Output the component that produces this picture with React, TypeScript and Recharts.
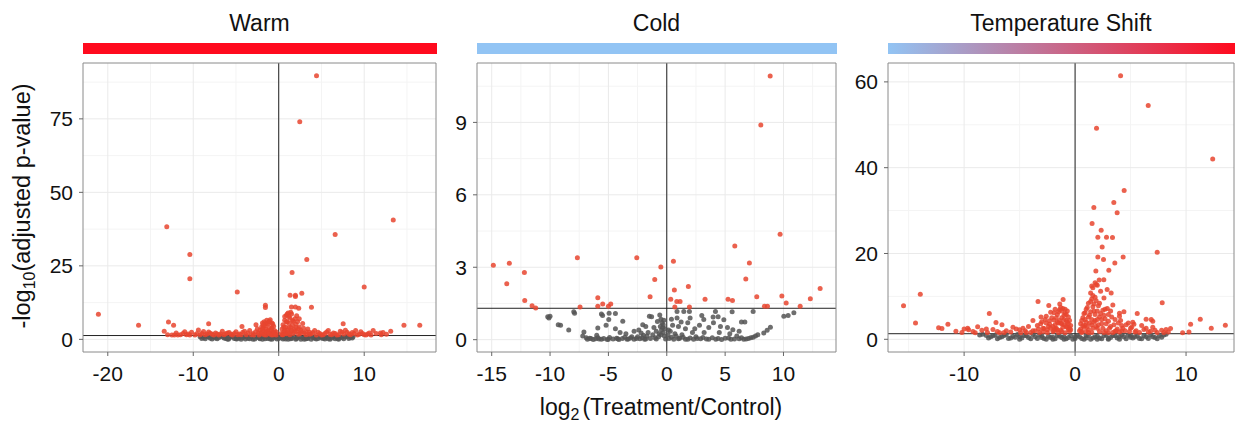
import { ScatterChart, Scatter, XAxis, YAxis, CartesianGrid, ReferenceLine } from 'recharts'

type Pt = [number, number]

// Warm panel
const warmUp: Pt[] = [
  [4.42, 89.7], [2.46, 74.0], [13.4, 40.6], [-13.1, 38.3], [6.6, 35.7], [-10.4, 28.9], [3.28, 27.2],
  [-10.4, 20.6], [1.56, 22.7], [-4.85, 16.1], [2.7, 15.7], [10.0, 17.8], [1.33, 15.0], [1.95, 15.0],
  [1.95, 14.6], [3.83, 10.9], [-1.56, 11.6], [-1.56, 10.8], [1.49, 11.0], [1.95, 11.0], [2.34, 10.6],
  [-21.1, 8.5], [-16.4, 4.8], [-12.9, 5.9], [-13.4, 2.8], [-12.3, 4.8], [-8.2, 5.3], [7.54, 5.3],
  [14.65, 4.8], [16.5, 4.8], [13.1, 2.8], [11.05, 3.0], [12.2, 2.3], [11.9, 2.2], [-4.3, 4.4], [-2.66, 5.0],
  [-2.4, 2.2], [-2.2, 3.1], [-2.0, 4.2], [-1.9, 5.6], [-1.8, 2.8], [-1.7, 6.0], [-1.6, 4.6], [-1.5, 3.5],
  [-1.4, 6.5], [-1.3, 5.2], [-1.2, 2.6], [-1.1, 4.0], [-1.0, 6.7], [-0.9, 3.3], [-0.8, 5.6], [-0.7, 2.4],
  [-0.6, 4.5], [-0.5, 3.0], [-0.4, 1.9], [-0.3, 2.5], [-2.1, 1.8], [-1.6, 2.0], [-1.0, 1.7], [-0.6, 1.6],
  [-1.3, 3.0], [-0.9, 2.1], [-1.8, 4.0], [-1.2, 5.8], [-0.8, 3.9], [-1.5, 1.5],
  [0.3, 2.0], [0.4, 3.5], [0.5, 5.0], [0.6, 2.6], [0.7, 6.5], [0.8, 4.2], [0.9, 8.2], [1.0, 3.1],
  [1.1, 9.0], [1.2, 5.5], [1.3, 7.3], [1.4, 2.4], [1.5, 8.6], [1.6, 4.8], [1.7, 6.2], [1.8, 3.4],
  [1.9, 7.0], [2.0, 5.1], [2.1, 2.8], [2.2, 6.0], [2.4, 4.2], [2.6, 3.0], [2.8, 5.4], [3.0, 2.2],
  [0.5, 1.6], [0.9, 1.9], [1.3, 1.6], [1.7, 2.0], [2.3, 1.7], [1.0, 6.0], [1.4, 4.0], [0.7, 3.0],
  [2.5, 2.0], [3.4, 3.5], [3.6, 2.4],
  [-12.5, 1.5], [-12.0, 2.2], [-11.5, 1.6], [-11.0, 2.6], [-10.6, 1.8], [-10.2, 2.4], [-9.8, 1.5],
  [-9.4, 3.2], [-9.0, 2.0], [-8.6, 1.6], [-8.2, 2.5], [-7.8, 1.7], [-7.4, 2.2], [-7.0, 1.5], [-6.6, 2.8],
  [-6.2, 1.9], [-5.8, 2.3], [-5.4, 1.5], [-5.0, 2.6], [-4.6, 1.8], [-4.2, 2.4], [-3.8, 1.6], [-3.4, 3.0],
  [-3.0, 2.0], [-2.7, 2.6], [-2.9, 1.5], [-3.6, 2.2], [-4.8, 1.6], [-6.8, 1.8], [-8.8, 2.7], [-10.8, 1.6],
  [-11.8, 1.5], [3.2, 1.6], [3.6, 1.7], [4.0, 2.3], [4.4, 1.5], [4.8, 2.0], [5.2, 1.6], [5.6, 2.5],
  [6.0, 1.7], [6.4, 2.2], [6.8, 1.5], [7.2, 2.8], [7.6, 1.8], [8.0, 2.4], [8.4, 1.6], [8.8, 2.0],
  [9.2, 1.5], [9.6, 2.6], [10.0, 1.6], [10.4, 1.8], [10.8, 1.5], [11.4, 2.0], [12.0, 1.6], [12.6, 1.7],
  [5.8, 3.0], [7.8, 3.1], [4.2, 3.0], [9.0, 3.0],
  [-13.0, 1.6], [-12.2, 1.5], [-11.2, 2.0], [-10.4, 1.5], [-9.6, 1.9], [-9.2, 1.6], [-8.4, 1.8], [-8.0, 2.1],
  [-7.6, 1.5], [-7.2, 1.8], [-6.4, 1.6], [-6.0, 2.2], [-5.6, 1.7], [-5.2, 2.0], [-4.4, 1.6], [-4.0, 2.8],
  [-3.2, 1.6], [-2.5, 3.6], [-2.3, 1.5], [-2.0, 2.4], [-1.9, 3.5], [-1.7, 1.6], [-1.4, 2.6], [-1.1, 2.0],
  [-0.8, 1.5], [-0.5, 2.2], [-0.3, 1.5], [-1.5, 5.4], [-1.8, 5.0], [-0.7, 5.2], [-1.1, 6.2], [0.4, 1.6],
  [0.6, 4.2], [0.8, 2.0], [1.1, 2.4], [1.2, 4.0], [1.5, 3.0], [1.6, 6.4], [1.9, 2.6], [2.0, 4.0],
  [2.3, 3.6], [2.7, 2.4], [2.9, 3.8], [3.2, 2.6], [3.8, 1.9], [4.6, 2.4], [5.0, 1.5], [5.4, 2.0],
  [6.2, 1.6], [6.6, 2.0], [7.0, 1.6], [7.4, 2.4], [8.2, 1.8], [8.6, 2.3], [9.4, 1.7], [9.8, 2.0],
  [10.2, 1.5], [10.6, 2.2], [1.2, 7.8], [0.9, 6.0], [1.4, 9.2], [1.0, 8.6], [0.7, 7.8], [2.1, 8.0], [2.4, 7.0],
]
const warmNs: Pt[] = [
  [-9.2, 0.9], [-8.8, 0.6], [-8.4, 1.0], [-8.0, 0.4], [-7.6, 0.8], [-7.2, 0.2], [-6.8, 1.1], [-6.4, 0.5],
  [-6.0, 0.1], [-5.6, 0.9], [-5.2, 0.3], [-4.8, 0.7], [-4.4, 0.0], [-4.0, 1.0], [-3.6, 0.4], [-3.2, 0.8],
  [-2.8, 0.1], [-2.4, 0.6], [-2.0, 1.1], [-1.6, 0.2], [-1.2, 0.7], [-0.8, 0.0], [-0.4, 0.9], [0.0, 0.3],
  [0.4, 0.8], [0.8, 0.1], [1.2, 1.0], [1.6, 0.4], [2.0, 0.0], [2.4, 0.9], [2.8, 0.5], [3.2, 0.2],
  [3.6, 1.1], [4.0, 0.6], [4.4, 0.1], [4.8, 0.9], [5.2, 0.3], [5.6, 0.7], [6.0, 0.0], [6.4, 1.0],
  [6.8, 0.5], [7.2, 0.8], [7.6, 0.2], [8.0, 1.0], [8.4, 0.6], [8.7, 0.9], [-6.2, 0.3], [-5.0, 0.2],
  [-3.0, 0.0], [-2.2, 0.2], [-1.0, 0.4], [-0.2, 0.1], [0.6, 0.5], [1.4, 0.2], [2.2, 0.6], [3.0, 0.0],
  [4.2, 0.4], [5.4, 0.1], [6.6, 0.2], [-7.0, 0.6], [-4.6, 0.5], [-1.8, 0.9], [1.0, 0.7], [3.4, 0.8],
  [5.0, 0.5], [7.0, 0.3],
  [-9.0, 0.3], [-8.6, 0.2], [-8.2, 0.8], [-7.8, 0.1], [-7.4, 0.5], [-6.6, 0.9], [-6.2, 0.7], [-5.8, 0.4],
  [-5.4, 1.0], [-4.9, 0.1], [-4.2, 0.6], [-3.8, 0.9], [-3.4, 0.2], [-2.6, 0.9], [-2.2, 0.5], [-1.9, 0.0],
  [-1.4, 1.0], [-1.0, 0.1], [-0.6, 0.5], [-0.3, 1.1], [0.2, 0.6], [0.5, 0.1], [0.9, 0.9], [1.3, 0.5],
  [1.8, 1.0], [2.1, 0.3], [2.6, 0.0], [3.0, 0.7], [3.4, 0.3], [3.8, 0.0], [4.2, 0.9], [4.6, 0.3],
  [5.0, 1.0], [5.4, 0.6], [5.8, 0.2], [6.2, 0.5], [6.6, 0.9], [7.0, 0.0], [7.4, 0.6], [7.8, 0.9],
  [8.2, 0.3], [8.6, 0.5], [-5.9, 0.0], [-3.9, 0.1], [-1.3, 0.3], [1.1, 0.0], [3.3, 0.5], [5.9, 0.8],
]

// Cold panel
const coldUp: Pt[] = [
  [8.86, 10.92], [8.06, 8.89], [9.71, 4.37], [5.83, 3.88], [-14.86, 3.08], [-13.49, 3.17], [-7.66, 3.39],
  [-2.57, 3.39], [0.57, 3.25], [-0.51, 3.01], [7.08, 3.18], [-12.2, 2.78], [-13.71, 2.32], [-1.03, 2.49],
  [6.77, 2.51], [13.14, 2.12], [0.65, 2.06], [1.85, 2.2], [-12.17, 1.62], [-5.91, 1.74], [-1.43, 1.78],
  [3.28, 1.68], [5.25, 1.68], [5.63, 1.62], [7.71, 1.78], [9.86, 1.81], [12.3, 1.7], [10.23, 1.52],
  [0.34, 1.68], [0.86, 1.58], [1.14, 1.58], [-11.54, 1.41], [-11.23, 1.31], [-7.43, 1.35], [-5.91, 1.39],
  [-5.49, 1.48], [-5.0, 1.39], [-4.8, 1.48], [0.69, 1.35], [1.94, 1.35], [8.37, 1.39], [8.63, 1.39],
  [11.43, 1.39],
]
const coldNs: Pt[] = [
  [-10.2, 0.95], [-10.0, 0.97], [-10.1, 0.9], [-9.3, 0.62], [-9.1, 0.6], [-8.4, 0.4], [-7.97, 1.16],
  [-7.9, 1.1], [-7.1, 0.32], [-7.2, 0.15], [-6.9, 0.08], [-5.6, 1.06], [-5.5, 1.0], [-4.94, 1.1],
  [-4.4, 1.08], [-5.2, 0.6], [-4.97, 0.84], [-3.77, 0.76], [-5.91, 0.48], [-2.06, 0.62], [-1.49, 0.97],
  [-1.3, 0.95], [-0.6, 1.02], [-0.5, 0.85], [-0.4, 0.7], [-0.55, 0.55], [-0.45, 0.4], [-0.3, 0.3],
  [-0.65, 0.25], [-0.2, 0.15], [-1.1, 0.5], [-2.8, 0.35], [-3.5, 0.25], [-4.4, 0.45], [-6.0, 0.18],
  [-6.5, 0.05], [-5.8, 0.03], [-5.0, 0.02], [-4.2, 0.04], [-3.4, 0.02], [-2.6, 0.05], [-1.8, 0.03],
  [-1.0, 0.08], [-0.1, 0.03], [0.2, 0.05], [0.88, 1.17], [1.46, 1.17], [1.94, 1.17], [0.88, 0.9],
  [1.23, 0.73], [0.5, 0.6], [0.3, 0.35], [0.7, 0.25], [1.6, 0.45], [2.2, 0.3], [2.8, 0.6], [3.17, 0.84],
  [4.17, 1.17], [3.97, 0.94], [4.89, 0.83], [5.6, 1.16], [5.66, 0.41], [6.4, 0.73], [6.69, 0.73],
  [7.4, 1.17], [8.31, 0.28], [8.88, 0.51], [8.6, 0.39], [10.03, 0.97], [10.4, 1.0], [10.89, 1.12],
  [1.0, 0.04], [1.8, 0.02], [2.6, 0.05], [3.4, 0.03], [4.2, 0.02], [5.0, 0.06], [5.8, 0.03], [6.6, 0.02],
  [7.2, 0.08], [7.6, 0.15], [4.5, 0.3], [3.6, 0.5], [5.2, 0.5], [2.0, 0.9], [4.0, 0.7], [-3.0, 0.12],
  [-2.0, 0.18], [6.0, 0.15], [-1.6, 0.3], [1.3, 0.2],
  [-6.8, 0.02], [-6.6, 0.06], [-6.3, 0.01], [-6.1, 0.04], [-5.9, 0.08], [-5.6, 0.02], [-5.4, 0.05],
  [-5.1, 0.01], [-4.9, 0.09], [-4.6, 0.03], [-4.3, 0.06], [-4.1, 0.01], [-3.8, 0.05], [-3.6, 0.1],
  [-3.3, 0.03], [-3.1, 0.07], [-2.8, 0.02], [-2.5, 0.12], [-2.3, 0.04], [-2.1, 0.08], [-1.9, 0.02],
  [-1.7, 0.15], [-1.4, 0.05], [-1.2, 0.2], [-0.9, 0.03], [-0.7, 0.12], [-0.35, 0.5], [-0.25, 0.8],
  [-0.3, 0.62], [-0.15, 0.45], [-0.5, 0.2], [0.1, 0.2], [0.15, 0.4], [0.4, 0.1], [0.6, 0.02], [0.8, 0.15],
  [1.1, 0.06], [1.4, 0.1], [1.6, 0.02], [2.0, 0.07], [2.3, 0.02], [2.5, 0.12], [2.9, 0.04], [3.1, 0.09],
  [3.6, 0.02], [3.9, 0.08], [4.4, 0.05], [4.7, 0.01], [5.3, 0.07], [5.5, 0.02], [6.2, 0.04], [6.4, 0.08],
  [6.8, 0.03], [7.0, 0.05], [7.4, 0.1], [7.8, 0.2], [-2.4, 0.4], [-1.8, 0.55], [-0.8, 0.75], [0.4, 0.85],
  [1.0, 0.55], [2.4, 0.45], [3.2, 0.3], [4.6, 0.55], [5.4, 0.25], [-4.0, 0.3], [-2.2, 0.28], [-0.9, 0.35],
  [1.8, 0.7], [3.0, 1.0], [4.4, 0.95], [6.2, 0.35],
]

// Temperature shift panel
const shiftUp: Pt[] = [
  [4.1, 61.4], [6.59, 54.5], [1.93, 49.2], [12.4, 42.0], [4.42, 34.7], [3.49, 31.9], [1.69, 30.7],
  [3.79, 29.5], [1.53, 27.0], [2.35, 25.4], [2.05, 23.8], [2.83, 23.8], [3.37, 23.7], [2.44, 21.5],
  [7.4, 20.3], [2.05, 19.2], [4.33, 19.2], [2.56, 18.6], [3.58, 17.8], [1.87, 15.9], [3.04, 16.1],
  [2.17, 13.8], [2.59, 13.9], [1.5, 12.4], [1.9, 12.8], [2.89, 11.6], [3.25, 10.8], [7.85, 8.5],
  [-13.95, 10.5], [-15.46, 7.8], [-3.34, 8.8], [-1.08, 9.3], [-1.38, 8.2], [-2.37, 7.9], [-14.38, 3.8],
  [-7.73, 6.0], [-11.46, 3.5], [-12.3, 2.7], [-12.0, 2.5], [-7.13, 3.9], [-6.59, 3.4], [-8.78, 2.9],
  [-9.68, 2.6], [-10.74, 1.9], [-3.07, 5.2], [11.28, 4.7], [10.41, 3.5], [13.54, 3.3], [12.27, 2.6],
  [10.26, 1.7], [9.69, 1.5], [8.6, 2.5], [8.2, 2.3], [6.86, 4.6], [7.0, 4.2], [5.6, 6.0], [4.0, 6.1],
  [5.3, 3.5], [6.4, 4.7],
  [-3.6, 2.0], [-3.4, 3.2], [-3.2, 1.6], [-3.0, 4.1], [-2.8, 2.5], [-2.6, 5.4], [-2.4, 3.0], [-2.2, 6.3],
  [-2.0, 1.8], [-1.9, 4.5], [-1.8, 7.0], [-1.7, 2.6], [-1.6, 5.8], [-1.5, 3.8], [-1.4, 6.9], [-1.3, 2.1],
  [-1.2, 5.0], [-1.1, 7.2], [-1.0, 3.4], [-0.9, 6.0], [-0.8, 4.4], [-0.7, 2.8], [-0.6, 5.2], [-0.5, 1.9],
  [-0.4, 3.2], [-2.5, 1.6], [-1.5, 1.6], [-0.9, 1.5], [-2.9, 1.8], [-1.8, 2.4], [-1.2, 3.6], [-0.6, 2.3],
  [-2.3, 4.3], [-1.0, 5.6], [-4.0, 1.6], [-4.5, 2.0], [-4.9, 1.5], [-5.3, 2.4], [-5.8, 1.7], [-6.2, 2.0],
  [-6.8, 1.5], [-7.4, 2.3], [-7.9, 1.6], [-8.4, 2.1], [-9.0, 1.5], [-9.6, 2.2], [-10.2, 1.6], [-4.2, 3.0],
  [-5.6, 2.8], [-3.8, 4.4], [-4.7, 2.6],
  [0.4, 2.0], [0.5, 3.6], [0.6, 1.6], [0.7, 5.0], [0.8, 2.8], [0.9, 6.2], [1.0, 4.0], [1.1, 7.4],
  [1.2, 2.2], [1.3, 5.6], [1.4, 8.8], [1.5, 3.4], [1.6, 10.2], [1.7, 6.6], [1.8, 4.4], [1.9, 9.0],
  [2.0, 2.6], [2.1, 7.8], [2.2, 5.2], [2.3, 11.2], [2.4, 3.6], [2.5, 6.8], [2.6, 9.6], [2.7, 4.8],
  [2.8, 2.0], [2.9, 7.2], [3.0, 5.8], [3.2, 3.0], [3.4, 8.0], [3.6, 4.6], [3.8, 2.4], [4.0, 5.4],
  [4.2, 3.2], [4.5, 2.0], [4.8, 3.8], [5.0, 2.6], [1.5, 1.6], [2.2, 1.8], [3.0, 1.5], [3.6, 1.9],
  [1.0, 1.8], [0.9, 3.2], [1.6, 12.0], [1.4, 10.8], [1.7, 8.2], [2.0, 12.6], [1.8, 13.2], [5.5, 2.0],
  [5.8, 1.6], [6.2, 2.3], [6.6, 1.7], [7.0, 2.8], [7.4, 1.6], [7.8, 2.1], [6.0, 3.2], [5.2, 4.0],
  [4.4, 6.4], [3.2, 6.6], [4.2, 2.0],
  [-3.3, 2.4], [-3.1, 3.6], [-2.9, 2.6], [-2.7, 4.6], [-2.5, 2.2], [-2.3, 3.5], [-2.1, 5.0], [-2.0, 3.0],
  [-1.9, 6.2], [-1.8, 3.4], [-1.7, 5.0], [-1.6, 2.2], [-1.5, 6.4], [-1.4, 4.4], [-1.3, 7.4], [-1.3, 3.8],
  [-1.2, 6.6], [-1.1, 2.8], [-1.0, 4.6], [-0.9, 7.0], [-0.8, 3.0], [-0.8, 5.8], [-0.7, 6.6], [-0.7, 4.0],
  [-0.6, 3.6], [-0.5, 4.4], [-0.5, 2.6], [-2.6, 3.8], [-2.2, 2.6], [-1.6, 4.0], [-1.9, 2.0], [-1.2, 1.8],
  [-0.4, 2.2], [-3.8, 2.0], [-4.4, 1.6], [-5.0, 2.2], [-6.4, 1.6], [-7.0, 1.8], [-8.0, 2.4], [-9.2, 1.8],
  [-10.0, 2.4],
  [0.5, 2.4], [0.6, 4.4], [0.7, 3.2], [0.8, 6.0], [0.9, 4.6], [1.0, 7.0], [1.1, 3.0], [1.2, 5.2],
  [1.2, 8.4], [1.3, 3.8], [1.4, 6.4], [1.5, 4.6], [1.5, 9.4], [1.6, 2.6], [1.6, 7.6], [1.7, 4.0],
  [1.8, 5.8], [1.8, 9.8], [1.9, 3.0], [2.0, 6.6], [2.0, 4.6], [2.1, 3.4], [2.2, 8.4], [2.3, 6.0],
  [2.4, 4.6], [2.5, 2.6], [2.6, 5.6], [2.7, 7.0], [2.8, 3.6], [3.0, 4.2], [3.1, 2.6], [3.3, 5.2],
  [3.5, 3.4], [3.7, 2.0], [3.9, 3.8], [4.1, 4.4], [4.3, 2.6], [4.6, 3.4], [4.9, 1.8], [5.1, 2.8],
  [5.4, 1.7], [0.6, 1.8], [1.2, 1.6], [2.6, 1.6], [3.4, 1.6], [4.0, 1.7], [6.4, 2.6], [6.8, 1.9],
  [7.2, 2.1], [8.0, 1.6], [8.4, 1.7],
]
const shiftNs: Pt[] = [
  [-8.33, 1.17], [-8.0, 0.9], [-7.6, 0.6], [-7.2, 1.0], [-6.8, 0.4], [-6.4, 0.9], [-6.0, 0.2], [-5.6, 0.7],
  [-5.2, 1.1], [-4.8, 0.3], [-4.4, 0.8], [-4.0, 0.1], [-3.6, 0.6], [-3.2, 1.0], [-2.8, 0.2], [-2.4, 0.7],
  [-2.0, 0.0], [-1.6, 0.9], [-1.2, 0.4], [-0.8, 0.1], [-0.4, 0.8], [0.0, 0.2], [0.4, 0.6], [0.8, 0.0],
  [1.2, 0.9], [1.6, 0.3], [2.0, 0.7], [2.4, 0.1], [2.8, 1.0], [3.2, 0.4], [3.6, 0.8], [4.0, 0.0],
  [4.4, 0.6], [4.8, 1.0], [5.2, 0.3], [5.6, 0.8], [6.0, 0.1], [6.4, 0.6], [6.8, 1.0], [7.2, 0.4],
  [7.6, 0.9], [8.2, 1.17], [-3.0, 0.4], [-1.0, 0.6], [1.0, 0.3], [3.0, 0.2], [5.0, 0.5], [-5.0, 0.6],
  [-8.6, 1.0], [-7.8, 0.3], [-7.4, 0.8], [-7.0, 0.1], [-6.6, 0.6], [-6.2, 1.1], [-5.8, 0.3], [-5.4, 0.5],
  [-5.0, 0.0], [-4.6, 0.9], [-4.2, 0.4], [-3.8, 1.1], [-3.4, 0.2], [-3.0, 0.8], [-2.6, 0.0], [-2.2, 0.4],
  [-1.8, 0.1], [-1.4, 0.7], [-1.0, 0.0], [-0.6, 0.4], [-0.2, 0.0], [0.2, 0.9], [0.6, 0.2], [1.0, 0.9],
  [1.4, 0.0], [1.8, 0.6], [2.2, 0.3], [2.6, 0.8], [3.0, 0.0], [3.4, 0.9], [3.8, 0.3], [4.2, 1.0],
  [4.6, 0.1], [5.0, 0.9], [5.4, 0.6], [5.8, 0.2], [6.2, 0.9], [6.6, 0.2], [7.0, 0.6], [7.4, 0.1],
  [7.8, 0.5], [8.0, 1.0], [-2.0, 0.5], [0.0, 0.6], [2.0, 0.0], [4.0, 0.6],
]

const THRESHOLD = 1.301
const RED = '#E8452F'
const GREY = '#555555'
const FONT = '"Liberation Sans", Arial, sans-serif'

const toObj = (arr: Pt[]) => arr.map(([x, y]) => ({ x, y }))

interface PanelDef {
  title: string
  bar: string
  left: number
  right: number
  xDomain: [number, number]
  yDomain: [number, number]
  xTicks: number[]
  yTicks: number[]
  xMinor: number[]
  yMinor: number[]
  up: Pt[]
  ns: Pt[]
}

const panels: PanelDef[] = [
  {
    title: 'Warm', bar: '#FF0A1E', left: 83, right: 436,
    xDomain: [-22.9, 18.4], yDomain: [-4.3, 94],
    xTicks: [-20, -10, 0, 10], yTicks: [0, 25, 50, 75],
    xMinor: [-15, -5, 5, 15], yMinor: [12.5, 37.5, 62.5, 87.5],
    up: warmUp, ns: warmNs,
  },
  {
    title: 'Cold', bar: '#92C4F4', left: 477, right: 836,
    xDomain: [-16.26, 14.5], yDomain: [-0.51, 11.46],
    xTicks: [-15, -10, -5, 0, 5, 10], yTicks: [0, 3, 6, 9],
    xMinor: [-12.5, -7.5, -2.5, 2.5, 7.5, 12.5], yMinor: [1.5, 4.5, 7.5, 10.5],
    up: coldUp, ns: coldNs,
  },
  {
    title: 'Temperature Shift', bar: 'linear-gradient(to right, #92C4F4, #FF0A1E)', left: 888, right: 1234,
    xDomain: [-16.86, 14.32], yDomain: [-2.96, 64.4],
    xTicks: [-10, 0, 10], yTicks: [0, 20, 40, 60],
    xMinor: [-15, -5, 5], yMinor: [10, 30, 50],
    up: shiftUp, ns: shiftNs,
  },
]

const TOP = 63
const BOTTOM = 352
const H = 423
const YW = 60

const dot = (fill: string) => (p: any) => (
  <circle cx={p.cx} cy={p.cy} r={2.5} fill={fill} fillOpacity={0.85} />
)

function Panel({ d }: { d: PanelDef }) {
  const w = d.right - d.left + YW + 1
  const tick = { fontSize: 21, fill: '#111', fontFamily: FONT }
  return (
    <div style={{ position: 'absolute', left: d.left - YW, top: 0 }}>
      <ScatterChart width={w} height={H} margin={{ top: TOP, right: 1, left: 0, bottom: 0 }}>
        <CartesianGrid stroke="#F4F4F4" verticalValues={d.xMinor} horizontalValues={d.yMinor} />
        <CartesianGrid stroke="#EAEAEA" verticalValues={d.xTicks} horizontalValues={d.yTicks} />
        <XAxis
          type="number" dataKey="x" domain={d.xDomain} ticks={d.xTicks} allowDataOverflow
          height={H - BOTTOM} axisLine={false} tickSize={4} tickMargin={10}
          tickLine={{ stroke: '#666' }} tick={tick}
        />
        <YAxis
          type="number" dataKey="y" domain={d.yDomain} ticks={d.yTicks} allowDataOverflow
          width={YW} axisLine={false} tickSize={4} tickMargin={6}
          tickLine={{ stroke: '#666' }} tick={tick}
        />
        <Scatter data={toObj(d.ns)} shape={dot(GREY)} isAnimationActive={false} />
        <Scatter data={toObj(d.up)} shape={dot(RED)} isAnimationActive={false} />
        <ReferenceLine x={0} stroke="#222" />
        <ReferenceLine y={THRESHOLD} stroke="#222" />
        <ReferenceLine x={d.xDomain[0]} stroke="#8a8a8a" />
        <ReferenceLine x={d.xDomain[1]} stroke="#8a8a8a" />
        <ReferenceLine y={d.yDomain[0]} stroke="#8a8a8a" />
        <ReferenceLine y={d.yDomain[1]} stroke="#8a8a8a" />
      </ScatterChart>
    </div>
  )
}

export default function App() {
  return (
    <div style={{ position: 'absolute', left: 0, top: 0, width: 1235, height: H, overflow: 'hidden', background: '#fff', fontFamily: FONT }}>
      {panels.map(d => (
        <div key={d.title}>
          <div style={{
            position: 'absolute', left: d.left, width: d.right - d.left, top: 8, textAlign: 'center',
            fontSize: 23, color: '#111', lineHeight: '30px',
          }}>{d.title}</div>
          <div style={{
            position: 'absolute', left: d.left, width: d.right - d.left + 1, top: 43, height: 11, background: d.bar,
          }} />
          <Panel d={d} />
        </div>
      ))}
      <svg width={1235} height={H} style={{ position: 'absolute', left: 0, top: 0, pointerEvents: 'none' }}>
        <text transform="translate(30,206) rotate(-90)" textAnchor="middle" fontSize={23.5} fill="#111" fontFamily={FONT}>
          -log<tspan dy={5} fontSize={16}>10</tspan><tspan dy={-5}>(adjusted p-value)</tspan>
        </text>
        <text x={661} y={415} textAnchor="middle" fontSize={23} fill="#111" fontFamily={FONT}>
          log<tspan dy={5} fontSize={16}>2</tspan><tspan dy={-5} dx={3}>(Treatment/Control)</tspan>
        </text>
      </svg>
    </div>
  )
}
